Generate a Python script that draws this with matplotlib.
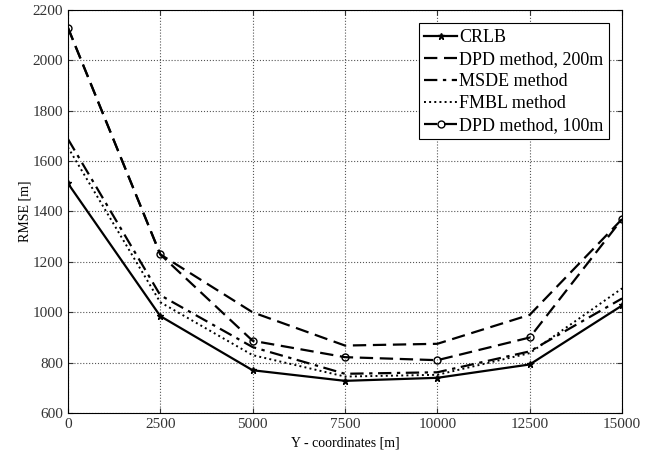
import numpy as np
import matplotlib
matplotlib.use('Agg')
import matplotlib.pyplot as plt

plt.rcParams['font.family'] = ['Liberation Serif', 'DejaVu Serif']

y_coords = [0, 2500, 5000, 7500, 10000, 12500, 15000]
crlb = [1512, 985, 770, 728, 740, 793, 1027]
dpd_200 = [2130, 1230, 1000, 868, 875, 990, 1370]
msde = [1688, 1068, 862, 756, 762, 845, 1055]
fmbl = [1655, 1040, 830, 745, 752, 838, 1095]
dpd_100 = [2130, 1230, 887, 822, 810, 900, 1370]

fig = plt.figure(figsize=(6.59, 4.5), dpi=100)
ax = fig.add_axes([0.103, 0.082, 0.841, 0.896])

ax.plot(y_coords, crlb, '-*', color='black', lw=1.6, ms=5, label='CRLB')
ax.plot(y_coords, dpd_200, '--', color='black', lw=1.6, dashes=(6, 3), label='DPD method, 200m')
ax.plot(y_coords, msde, '-.', color='black', lw=1.6, dashes=(6, 2.5, 1.5, 2.5), label='MSDE method')
ax.plot(y_coords, fmbl, ':', color='black', lw=1.4, label='FMBL method')
ax.plot(y_coords, dpd_100, '--o', color='black', lw=1.6, dashes=(6, 3), ms=5, mfc='none',
        label='DPD method, 100m')

ax.set_xlim(0, 15000)
ax.set_ylim(600, 2200)
ax.set_xticks(y_coords)
ax.set_yticks(np.arange(600, 2201, 200))
ax.tick_params(direction='in', labelsize=11, top=True, right=True, colors='#333333')
ax.grid(True, linestyle=':', color='#555555', lw=0.8)
ax.set_xlabel('Y - coordinates [m]', fontsize=10)
ax.set_ylabel('RMSE [m]', fontsize=10, labelpad=1)

leg = ax.legend(loc='upper right', fontsize=13, fancybox=False, framealpha=1,
                edgecolor='black', handlelength=1.8, handletextpad=0.1,
                labelspacing=0.28, borderpad=0.3, borderaxespad=0.75)
leg.get_frame().set_linewidth(0.8)

fig.savefig('out.png', dpi=100)
